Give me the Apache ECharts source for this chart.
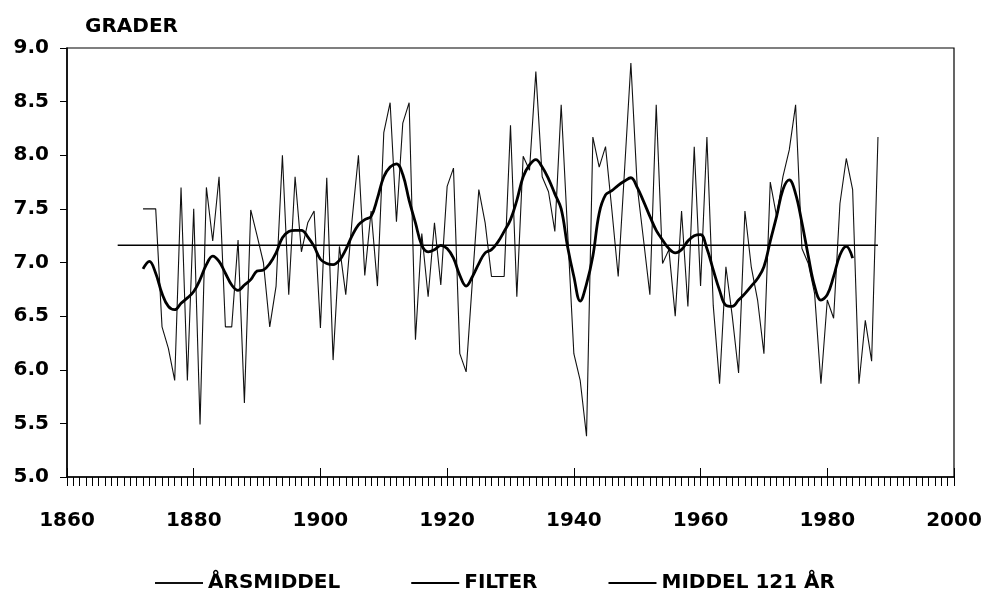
<!DOCTYPE html>
<html>
<head>
<meta charset="utf-8">
<script src="https://cdn.jsdelivr.net/npm/echarts@6/dist/echarts.min.js"></script>
<style>html,body{margin:0;padding:0;background:#fff;}#c{width:989px;height:602px;}</style>
</head>
<body>
<div id="c"></div>
<script>
// Annual mean temperature (ÅRSMIDDEL), 1872-1988
const annualStart = 1872;
const annual = [
  7.50,7.50,7.50,6.40,6.20,5.90,7.70,5.90,7.50,5.49,
  7.70,7.20,7.80,6.40,6.40,7.21,5.69,7.49,7.25,7.00,
  6.40,6.78,8.00,6.70,7.80,7.10,7.37,7.48,6.39,7.79,
  6.09,7.15,6.70,7.40,8.00,6.88,7.48,6.78,8.21,8.49,
  7.38,8.30,8.49,6.28,7.27,6.68,7.37,6.79,7.71,7.88,
  6.15,5.98,6.84,7.68,7.37,6.87,6.87,6.87,8.28,6.68,
  7.99,7.86,8.78,7.80,7.66,7.29,8.47,7.30,6.15,5.90,
  5.38,8.17,7.89,8.08,7.49,6.87,7.86,8.86,7.71,7.21,
  6.70,8.47,6.99,7.12,6.50,7.48,6.59,8.08,6.78,8.17,
  6.60,5.87,6.96,6.50,5.97,7.48,6.96,6.65,6.15,7.75,
  7.43,7.80,8.05,8.47,7.13,6.99,6.71,5.87,6.65,6.48,
  7.55,7.97,7.68,5.87,6.46,6.08,8.17
];
// Filtered series (FILTER), 1872-1984
const filterStart = 1872;
const filtered = [
  6.94,7.01,6.90,6.71,6.59,6.56,6.62,6.67,6.73,6.84,
  6.98,7.06,7.01,6.90,6.79,6.74,6.79,6.84,6.92,6.93,
  6.99,7.09,7.23,7.29,7.30,7.30,7.24,7.15,7.03,6.99,
  6.98,7.02,7.12,7.25,7.35,7.40,7.43,7.60,7.80,7.89,
  7.92,7.82,7.58,7.37,7.16,7.10,7.12,7.16,7.13,7.04,
  6.88,6.78,6.87,6.99,7.09,7.12,7.19,7.29,7.40,7.58,
  7.80,7.91,7.96,7.89,7.78,7.64,7.50,7.15,6.87,6.64,
  6.80,7.06,7.46,7.63,7.67,7.72,7.76,7.79,7.70,7.57,
  7.43,7.30,7.21,7.13,7.09,7.12,7.20,7.25,7.26,7.13,
  6.93,6.74,6.60,6.59,6.65,6.71,6.78,6.85,6.96,7.20,
  7.43,7.68,7.77,7.64,7.37,7.06,6.78,6.65,6.70,6.87,
  7.07,7.15,7.04
];
// 121-year mean (MIDDEL 121 ÅR), 1868-1988
const meanYears = [1868, 1988];
const meanValue = 7.16;

const xTicks = [1860, 1880, 1900, 1920, 1940, 1960, 1980, 2000];
const yTicks = [5.0, 5.5, 6.0, 6.5, 7.0, 7.5, 8.0, 8.5, 9.0];

const names = ['ÅRSMIDDEL', 'FILTER', 'MIDDEL 121 ÅR'];

const annualData = annual.map((v, i) => [annualStart + i, v]);
const filterData = filtered.map((v, i) => [filterStart + i, v]);
const meanData = meanYears.map(y => [y, meanValue]);

const font = '"DejaVu Sans", Arial, sans-serif';
const chart = echarts.init(document.getElementById('c'), null, {renderer: 'canvas'});
chart.setOption({
  animation: false,
  backgroundColor: '#fff',
  title: {
    text: 'GRADER', left: 80, top: 12,
    textStyle: {fontFamily: font, fontWeight: 'bold', fontSize: 20, color: '#000'}
  },
  grid: {left: 67, right: 35, top: 48, bottom: 125, show: true, borderColor: '#000', borderWidth: 1.2, backgroundColor: 'transparent'},
  legend: {
    show: true, left: 'center', top: 568, itemWidth: 48, itemHeight: 14, itemGap: 70,
    itemStyle: {opacity: 0},
    textStyle: {fontFamily: font, fontWeight: 'bold', fontSize: 20, color: '#000'},
    data: names
  },
  xAxis: [{
    type: 'value', min: xTicks[0], max: xTicks[xTicks.length - 1], interval: 20,
    axisLine: {show: true, lineStyle: {color: '#000', width: 1.5}},
    axisTick: {show: true, inside: true, length: 9, lineStyle: {color: '#000', width: 1}},
    axisLabel: {margin: 34, fontFamily: font, fontWeight: 'bold', fontSize: 20, color: '#000',
      formatter: v => String(v)},
    splitLine: {show: false}
  }, {
    type: 'value', position: 'bottom', min: xTicks[0], max: xTicks[xTicks.length - 1], interval: 1,
    axisLine: {show: false},
    axisTick: {show: true, inside: false, length: 9, lineStyle: {color: '#000', width: 1}},
    axisLabel: {show: false},
    splitLine: {show: false}
  }],
  yAxis: {
    type: 'value', min: yTicks[0], max: yTicks[yTicks.length - 1], interval: 0.5,
    axisLine: {show: true, lineStyle: {color: '#000', width: 1.5}},
    axisTick: {show: true, inside: false, length: 7, lineStyle: {color: '#000'}},
    axisLabel: {margin: 18, fontFamily: font, fontWeight: 'bold', fontSize: 20, color: '#000',
      formatter: v => v.toFixed(1)},
    splitLine: {show: false}
  },
  series: [{
    name: names[0], type: 'line', data: annualData, symbol: 'none',
    lineStyle: {color: '#111', width: 1.1}, itemStyle: {color: '#111'}
  }, {
    name: names[1], type: 'line', data: filterData, symbol: 'none', smooth: 0.4,
    lineStyle: {color: '#000', width: 2.8}, itemStyle: {color: '#000'}
  }, {
    name: names[2], type: 'line', data: meanData, symbol: 'none',
    lineStyle: {color: '#000', width: 1.5}, itemStyle: {color: '#000'}
  }]
});
</script>
</body>
</html>
